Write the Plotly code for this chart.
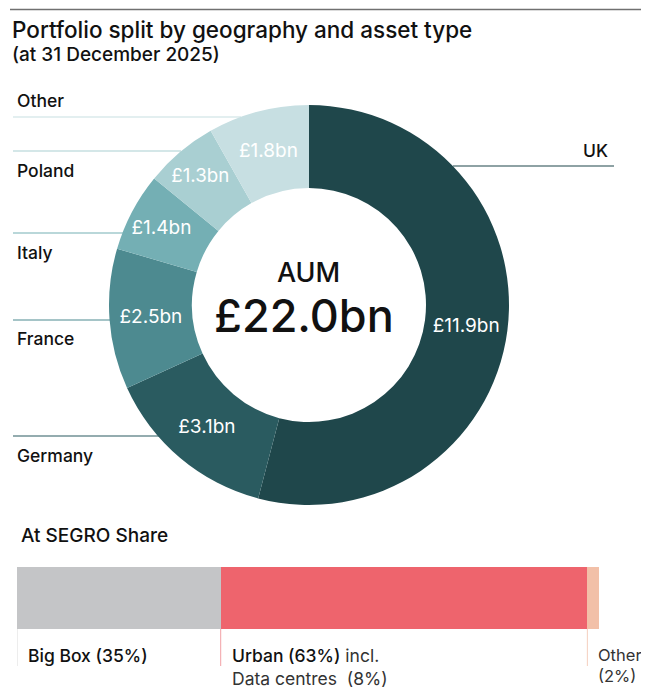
import plotly.graph_objects as go

# ---- data ----
regions = ["UK", "Germany", "France", "Italy", "Poland", "Other"]
aum_bn = [11.9, 3.1, 2.5, 1.4, 1.3, 1.8]
slice_labels = ["£11.9bn", "£3.1bn", "£2.5bn", "£1.4bn", "£1.3bn", "£1.8bn"]
slice_colors = ["#1f474b", "#2a5b60", "#4d8a90", "#74afb4", "#a9cfd2", "#c7dfe2"]
total_label = "£22.0bn"

asset_types = ["Big Box", "Urban", "Other"]
asset_share = [35, 63, 2]
asset_colors = ["#c4c5c7", "#ee646d", "#f2c0a8"]
asset_tick_colors = ["#dcdcdc", "#f2a0a6", "#f5cfbe"]
asset_texts = [
    "<span style='font-weight:500'>Big Box (35%)</span>",
    "<span style='font-weight:500'>Urban (63%)</span><span style='color:#333'> incl.</span><br><span style='color:#333'>Data centres  (8%)</span>",
    "<span style='color:#333'>Other<br>(2%)</span>",
]
asset_label_sizes = [17.5, 17.5, 16.5]

# page has an 8px body margin: figure is drawn at (8, 8) in the 649x688 window
OFF = 8
W, H = 649 - OFF, 688 - OFF
FONT = "Inter"


def px(x):
    return (x - OFF) / W


def py(y):
    return 1 - (y - OFF) / H


fig = go.Figure()

fig.add_trace(go.Pie(
    labels=regions, values=aum_bn, text=slice_labels,
    textinfo="text", textposition="inside", insidetextorientation="horizontal",
    textfont=dict(family=FONT, size=19, color="white"),
    marker=dict(colors=slice_colors, line=dict(width=0)),
    hole=0.585, sort=False, direction="clockwise", rotation=0,
    domain=dict(x=[px(109), px(509)], y=[py(505), py(105)]),
    showlegend=False, hoverinfo="label+value",
))

# stacked bar
for name, v, c in zip(asset_types, asset_share, asset_colors):
    fig.add_trace(go.Bar(
        x=[v], y=["share"], orientation="h", name=name,
        marker=dict(color=c, line=dict(width=0)),
        xaxis="x", yaxis="y", showlegend=False,
    ))

fig.update_layout(
    width=W, height=H, margin=dict(l=0, r=0, t=0, b=0),
    paper_bgcolor="white", plot_bgcolor="white",
    barmode="stack", bargap=0,
    xaxis=dict(domain=[px(17), px(599)], range=[0, 100], visible=False, fixedrange=True),
    yaxis=dict(domain=[py(629), py(567)], range=[-0.5, 0.5], visible=False, fixedrange=True),
    font=dict(family=FONT, color="#111"),
)

shapes = []
annotations = []

# top rule
shapes.append(dict(type="line", xref="paper", yref="paper", x0=px(10), x1=1, y0=py(9.5), y1=py(9.5),
                   line=dict(color="#707070", width=1.5), layer="above"))

# titles
annotations.append(dict(text="Portfolio split by geography and asset type", xref="paper", yref="paper",
                        x=px(10), y=py(30), xanchor="left", yanchor="middle", showarrow=False,
                        font=dict(family=FONT, size=22.5, color="#111", weight=500)))
annotations.append(dict(text="(at 31 December 2025)", xref="paper", yref="paper",
                        x=px(10), y=py(55), xanchor="left", yanchor="middle", showarrow=False,
                        font=dict(family=FONT, size=19, color="#111", weight=500)))

# centre text
annotations.append(dict(text="AUM", xref="paper", yref="paper", x=px(308), y=py(273),
                        xanchor="center", yanchor="middle", showarrow=False,
                        font=dict(family=FONT, size=27, color="#111", weight=500)))
annotations.append(dict(text=total_label, xref="paper", yref="paper", x=px(304), y=py(316),
                        xanchor="center", yanchor="middle", showarrow=False,
                        font=dict(family=FONT, size=45, color="#111", weight=500)))

# region leader lines and labels
left_lines = {  # region: (line y, line x end, label y)
    "Other": (117, 241, 101),
    "Poland": (151, 181, 170),
    "Italy": (233, 123, 252),
    "France": (320, 110, 338),
    "Germany": (436, 160, 455),
}
for r, c in zip(regions, slice_colors):
    if r in left_lines:
        ly, lx, ty = left_lines[r]
        shapes.append(dict(type="line", xref="paper", yref="paper", x0=px(13), x1=px(lx),
                           y0=py(ly), y1=py(ly), line=dict(color=c, width=1.2), layer="below"))
        annotations.append(dict(text=r, xref="paper", yref="paper", x=px(15), y=py(ty),
                                xanchor="left", yanchor="middle", showarrow=False,
                                font=dict(family=FONT, size=17.5, color="#111", weight=500)))
    else:
        shapes.append(dict(type="line", xref="paper", yref="paper", x0=px(453), x1=px(614),
                           y0=py(166), y1=py(166), line=dict(color=c, width=1.2), layer="below"))
        annotations.append(dict(text=r, xref="paper", yref="paper", x=px(610), y=py(150),
                                xanchor="right", yanchor="middle", showarrow=False,
                                font=dict(family=FONT, size=17.5, color="#111", weight=500)))

# bar section title
annotations.append(dict(text="At SEGRO Share", xref="paper", yref="paper", x=px(19), y=py(535),
                        xanchor="left", yanchor="middle", showarrow=False,
                        font=dict(family=FONT, size=19, color="#111", weight=500)))

# bar tick lines and labels
cum = 0
for v, tc, txt, fs in zip(asset_share, asset_tick_colors, asset_texts, asset_label_sizes):
    shapes.append(dict(type="line", xref="x", yref="paper", x0=cum, x1=cum,
                       y0=py(629), y1=py(666), line=dict(color=tc, width=1)))
    annotations.append(dict(text=txt, xref="x", yref="paper", x=cum, xshift=9, y=py(643),
                            xanchor="left", yanchor="top", showarrow=False, align="left",
                            font=dict(family=FONT, size=fs, color="#111")))
    cum += v

fig.update_layout(shapes=shapes, annotations=annotations)
fig.write_html("out.html", config={"displayModeBar": False})
